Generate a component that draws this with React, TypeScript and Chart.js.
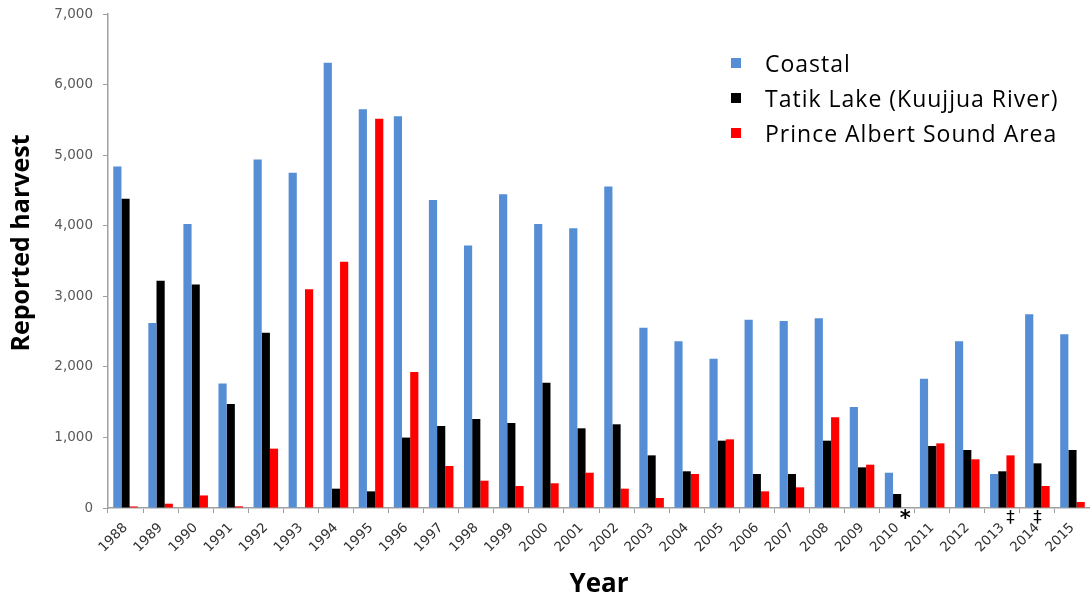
import React, { useEffect, useRef } from "react";
import { Chart, registerables } from "chart.js";

Chart.register(...registerables);

// Reported harvest by year and area
const years = [
  "1988", "1989", "1990", "1991", "1992", "1993", "1994", "1995", "1996", "1997",
  "1998", "1999", "2000", "2001", "2002", "2003", "2004", "2005", "2006", "2007",
  "2008", "2009", "2010", "2011", "2012", "2013", "2014", "2015",
];

const coastal = [
  4840, 2620, 4025, 1765, 4940, 4750, 6310, 5650, 5550, 4365,
  3720, 4445, 4025, 3965, 4555, 2555, 2362, 2116, 2669, 2650,
  2688, 1432, 500, 1833, 2362, 482, 2744, 2461,
];

const tatikLake = [
  4382, 3220, 3168, 1472, 2485, 0, 274, 236, 998, 1162,
  1261, 1205, 1776, 1129, 1186, 746, 520, 954, 482, 482,
  954, 576, 198, 879, 822, 520, 633, 822,
];

const princeAlbert = [
  22, 61, 178, 24, 841, 3098, 3491, 5516, 1928, 595,
  387, 312, 350, 500, 274, 142, 482, 973, 236, 293,
  1285, 614, 0, 916, 690, 746, 312, 85,
];

const seriesNames = ["Coastal", "Tatik Lake (Kuujjua River)", "Prince Albert Sound Area"];
const seriesColors = ["#558ed5", "#000000", "#ff0000"];

const yTicks = [0, 1000, 2000, 3000, 4000, 5000, 6000, 7000];

// Footnote symbols placed beneath particular bars
const noteYears = ["2010", "2013", "2014"];
const noteSymbols = ["*", "\u2021", "\u2021"];
const noteSeries = [2, 2, 1];

const yTitle = "Reported harvest";
const xTitle = "Year";

const notesPlugin = {
  id: "footnotes",
  afterDraw(chart: any) {
    const { ctx, chartArea } = chart;
    ctx.save();
    ctx.fillStyle = "#000";
    ctx.textAlign = "center";
    ctx.textBaseline = "middle";
    noteYears.forEach((yr, i) => {
      const idx = years.indexOf(yr);
      const bar = chart.getDatasetMeta(noteSeries[i]).data[idx];
      if (!bar) return;
      const sym = noteSymbols[i];
      ctx.font = sym === "*" ? "bold 21px 'DejaVu Sans'" : "17px 'DejaVu Sans'";
      ctx.fillText(sym, bar.x, chartArea.bottom + (sym === "*" ? 12 : 11));
    });
    // vertical axis title
    ctx.translate(22, (chartArea.top + chartArea.bottom) / 2 - 18);
    ctx.rotate(-Math.PI / 2);
    ctx.font = "bold 25px 'Open Sans'";
    ctx.fillText(yTitle, 0, 0);
    ctx.restore();
  },
};

export default function App() {
  const canvasRef = useRef<HTMLCanvasElement | null>(null);

  useEffect(() => {
    document.body.style.margin = "0";
    const canvas = canvasRef.current;
    if (!canvas) return;
    const series = [coastal, tatikLake, princeAlbert];
    const chart = new Chart(canvas, {
      type: "bar",
      data: {
        labels: years,
        datasets: series.map((d, i) => ({
          label: seriesNames[i],
          data: d,
          backgroundColor: seriesColors[i],
          borderWidth: 0,
          categoryPercentage: 0.7,
          barPercentage: 1.0,
        })),
      },
      plugins: [notesPlugin],
      options: {
        animation: false,
        responsive: false,
        maintainAspectRatio: false,
        layout: { padding: { left: 0, right: 0, top: 14, bottom: 0 } },
        plugins: {
          legend: { display: false },
          tooltip: { enabled: false },
        },
        scales: {
          x: {
            offset: true,
            grid: {
              offset: true,
              drawOnChartArea: false,
              drawTicks: true,
              tickLength: 5,
              color: "#a0a0a0",
            },
            border: { display: true, color: "#a0a0a0", width: 1.5 },
            ticks: {
              minRotation: 45,
              maxRotation: 45,
              autoSkip: false,
              padding: 7,
              color: "#303030",
              font: { family: "'DejaVu Sans'", size: 13.5 },
            },
            title: {
              display: true,
              text: xTitle,
              color: "#000",
              font: { family: "'Open Sans'", size: 26, weight: "bold" },
              padding: { top: 0, bottom: 0 },
            },
            afterFit(scale: any) {
              scale.height = 92;
              scale.paddingLeft = 0;
              scale.paddingRight = 0;
            },
          },
          y: {
            min: 0,
            max: 7000,
            afterBuildTicks(scale: any) {
              scale.ticks = yTicks.map((v) => ({ value: v }));
            },
            grid: {
              drawOnChartArea: false,
              drawTicks: true,
              tickLength: 5,
              color: "#a0a0a0",
            },
            border: { display: true, color: "#a0a0a0", width: 1.5 },
            ticks: {
              padding: 10,
              color: "#595959",
              font: { family: "'DejaVu Sans'", size: 13.5 },
              callback: (v: any) => Number(v).toLocaleString("en-US"),
            },
            afterFit(scale: any) {
              scale.width = 108;
              scale.paddingTop = 0;
              scale.paddingBottom = 0;
            },
          },
        },
      },
    });
    return () => chart.destroy();
  }, []);

  return (
    <div style={{ position: "fixed", left: 0, top: 0, width: 1090, height: 600, background: "#fff" }}>
      <canvas ref={canvasRef} width={1090} height={600} style={{ display: "block" }} />
      <div
        style={{
          position: "absolute",
          left: 731,
          top: 45,
          fontFamily: "'Open Sans', sans-serif",
          fontSize: 23,
          letterSpacing: 1,
          color: "#000",
        }}
      >
        {seriesNames.map((name, i) => (
          <div key={name} style={{ display: "flex", alignItems: "center", height: 35, whiteSpace: "nowrap" }}>
            <span
              style={{
                display: "inline-block",
                width: 10,
                height: 10,
                background: seriesColors[i],
                marginRight: 24,
              }}
            />
            <span>{name}</span>
          </div>
        ))}
      </div>
    </div>
  );
}
